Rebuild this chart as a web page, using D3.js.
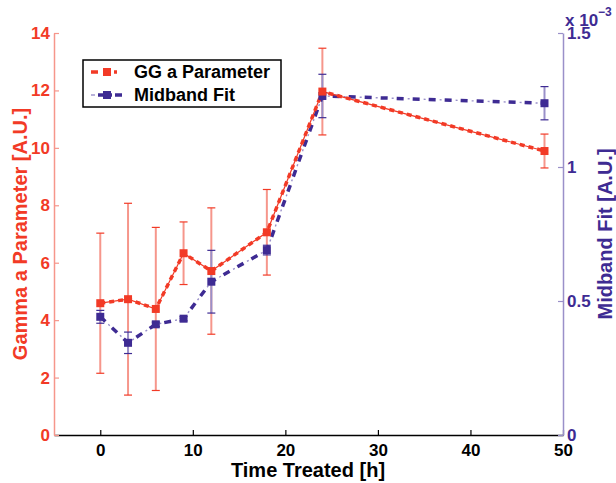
<!DOCTYPE html>
<html>
<head>
<meta charset="utf-8">
<script src="https://cdn.jsdelivr.net/npm/d3@7"></script>
<style>
  html, body { margin: 0; padding: 0; background: #fff; }
  svg text { font-family: "Liberation Sans", Arial, Helvetica, sans-serif; font-weight: bold; }
</style>
</head>
<body>
<svg id="chart" width="616" height="483"></svg>
<script>
// Sampling times in hours
const times = [0, 3, 6, 9, 12, 18, 24, 48];

// Gamma "a" parameter (left axis) with symmetric error half-widths
const ggValues = [4.59, 4.73, 4.39, 6.33, 5.71, 7.06, 11.96, 9.89];
const ggErrors = [2.44, 3.34, 2.84, 1.09, 2.20, 1.49, 1.51, 0.59];

// Midband fit (right axis), in units of 1e-3
const midValues = [0.441, 0.344, 0.413, 0.434, 0.572, 0.690, 1.265, 1.238];
const midErrors = [0.024, 0.040, 0.008, 0.008, 0.117, 0.018, 0.081, 0.062];

// Tick values
const xTicks = [0, 10, 20, 30, 40, 50];
const leftTicks = [0, 2, 4, 6, 8, 10, 12, 14];
const rightTicks = [0, 0.5, 1, 1.5];

const RED = "#f23a26";
const RED_LIGHT = "#f6968b";
const BLUE = "#3e2b93";
const BLUE_LIGHT = "#9a90c9";

const svg = d3.select("#chart");

const x = d3.scaleLinear().domain([-5, 50]).range([54, 563]);
const yL = d3.scaleLinear().domain([0, 14]).range([435, 33]);
const yR = d3.scaleLinear().domain([0, 1.5]).range([435, 33]);

// Bottom axis
const gx = svg.append("g").attr("transform", "translate(0,435)")
  .call(d3.axisBottom(x).tickValues(xTicks).tickSizeInner(-5).tickSizeOuter(0).tickPadding(9));
gx.select(".domain").attr("stroke", "#000").attr("stroke-width", 1.5);
gx.selectAll(".tick line").attr("stroke", "#000").attr("stroke-width", 1.2);
gx.selectAll(".tick text").attr("fill", "#000").style("font-size", "17px");

// Left axis
const gl = svg.append("g").attr("transform", "translate(54,0)")
  .call(d3.axisLeft(yL).tickValues(leftTicks).tickSizeInner(-5).tickSizeOuter(0).tickPadding(4));
gl.select(".domain").attr("stroke", RED_LIGHT).attr("stroke-width", 1.5);
gl.selectAll(".tick line").attr("stroke", RED_LIGHT).attr("stroke-width", 1.2);
gl.selectAll(".tick text").attr("fill", RED).style("font-size", "17px");

// Right axis
const gr = svg.append("g").attr("transform", "translate(563,0)")
  .call(d3.axisRight(yR).tickValues(rightTicks).tickSizeInner(-5).tickSizeOuter(0).tickPadding(4)
    .tickFormat(d3.format("~g")));
gr.select(".domain").attr("stroke", BLUE_LIGHT).attr("stroke-width", 1.5);
gr.selectAll(".tick line").attr("stroke", BLUE_LIGHT).attr("stroke-width", 1.2);
gr.selectAll(".tick text").attr("fill", BLUE).style("font-size", "17px");

// Exponent marker for the right axis
const expo = svg.append("text").attr("x", 565).attr("y", 26).attr("fill", BLUE).style("font-size", "17px");
expo.append("tspan").text("x 10");
expo.append("tspan").attr("dy", -10).style("font-size", "12px").text("\u22123");

// Axis titles
svg.append("text").attr("x", 308).attr("y", 477).attr("text-anchor", "middle")
  .attr("fill", "#000").style("font-size", "20px").text("Time Treated [h]");
svg.append("text").attr("transform", "translate(27,234) rotate(-90)").attr("text-anchor", "middle")
  .attr("fill", RED).style("font-size", "20px").text("Gamma a Parameter [A.U.]");
svg.append("text").attr("transform", "translate(612,234) rotate(-90)").attr("text-anchor", "middle")
  .attr("fill", BLUE).style("font-size", "20px").text("Midband Fit [A.U.]");

// Error bars
function errorBars(vals, errs, yScale, light, dark) {
  const g = svg.append("g");
  times.forEach((t, i) => {
    const cx = x(t), lo = yScale(vals[i] - errs[i]), hi = yScale(vals[i] + errs[i]);
    g.append("line").attr("x1", cx).attr("x2", cx).attr("y1", lo).attr("y2", hi)
      .attr("stroke", light).attr("stroke-width", 2);
    [lo, hi].forEach(yy => g.append("line").attr("x1", cx - 4).attr("x2", cx + 4)
      .attr("y1", yy).attr("y2", yy).attr("stroke", dark).attr("stroke-width", 1.2));
  });
}
errorBars(ggValues, ggErrors, yL, RED_LIGHT, RED);
errorBars(midValues, midErrors, yR, BLUE_LIGHT, BLUE);

// Series lines
const ggLine = d3.line().x((d, i) => x(times[i])).y(d => yL(d));
const midLine = d3.line().x((d, i) => x(times[i])).y(d => yR(d));

svg.append("path").attr("d", midLine(midValues)).attr("fill", "none")
  .attr("stroke", BLUE_LIGHT).attr("stroke-width", 1.4).attr("stroke-dasharray", "2,14").attr("stroke-dashoffset", -11);
svg.append("path").attr("d", midLine(midValues)).attr("fill", "none")
  .attr("stroke", BLUE).attr("stroke-width", 3.5).attr("stroke-dasharray", "7,9");

svg.append("path").attr("d", ggLine(ggValues)).attr("fill", "none")
  .attr("stroke", RED).attr("stroke-width", 1.2);
svg.append("path").attr("d", ggLine(ggValues)).attr("fill", "none")
  .attr("stroke", RED).attr("stroke-width", 3.5).attr("stroke-dasharray", "5,4");

// Markers
function markers(vals, yScale, color) {
  svg.append("g").selectAll("rect").data(vals).join("rect")
    .attr("x", (d, i) => x(times[i]) - 4).attr("y", d => yScale(d) - 4)
    .attr("width", 8).attr("height", 8).attr("fill", color);
}
markers(midValues, yR, BLUE);
markers(ggValues, yL, RED);

// Legend
const legend = svg.append("g");
legend.append("rect").attr("x", 83).attr("y", 60).attr("width", 198).attr("height", 47)
  .attr("fill", "#fff").attr("stroke", "#000").attr("stroke-width", 1.5);
const entries = [
  { label: "GG a Parameter", color: RED, y: 72 },
  { label: "Midband Fit", color: BLUE, y: 95 }
];
// GG sample: thick dash, marker, dot
legend.append("line").attr("x1", 91).attr("x2", 123).attr("y1", 72).attr("y2", 72)
  .attr("stroke", RED).attr("stroke-width", 3.5).attr("stroke-dasharray", "7,6,4,6,3,10");
legend.append("rect").attr("x", 103).attr("y", 68).attr("width", 8).attr("height", 8).attr("fill", RED);
// Midband sample: dot, dash, marker, dash
legend.append("line").attr("x1", 91).attr("x2", 95).attr("y1", 95).attr("y2", 95)
  .attr("stroke", BLUE_LIGHT).attr("stroke-width", 1.4);
legend.append("line").attr("x1", 98).attr("x2", 122).attr("y1", 95).attr("y2", 95)
  .attr("stroke", BLUE).attr("stroke-width", 3.5).attr("stroke-dasharray", "7,3,4,3,7");
legend.append("rect").attr("x", 103).attr("y", 91).attr("width", 8).attr("height", 8).attr("fill", BLUE);
legend.selectAll("text.lbl").data(entries).join("text").attr("class", "lbl")
  .attr("x", 134).attr("y", d => d.y + 6).attr("fill", "#000").style("font-size", "18px")
  .text(d => d.label);
</script>
</body>
</html>
